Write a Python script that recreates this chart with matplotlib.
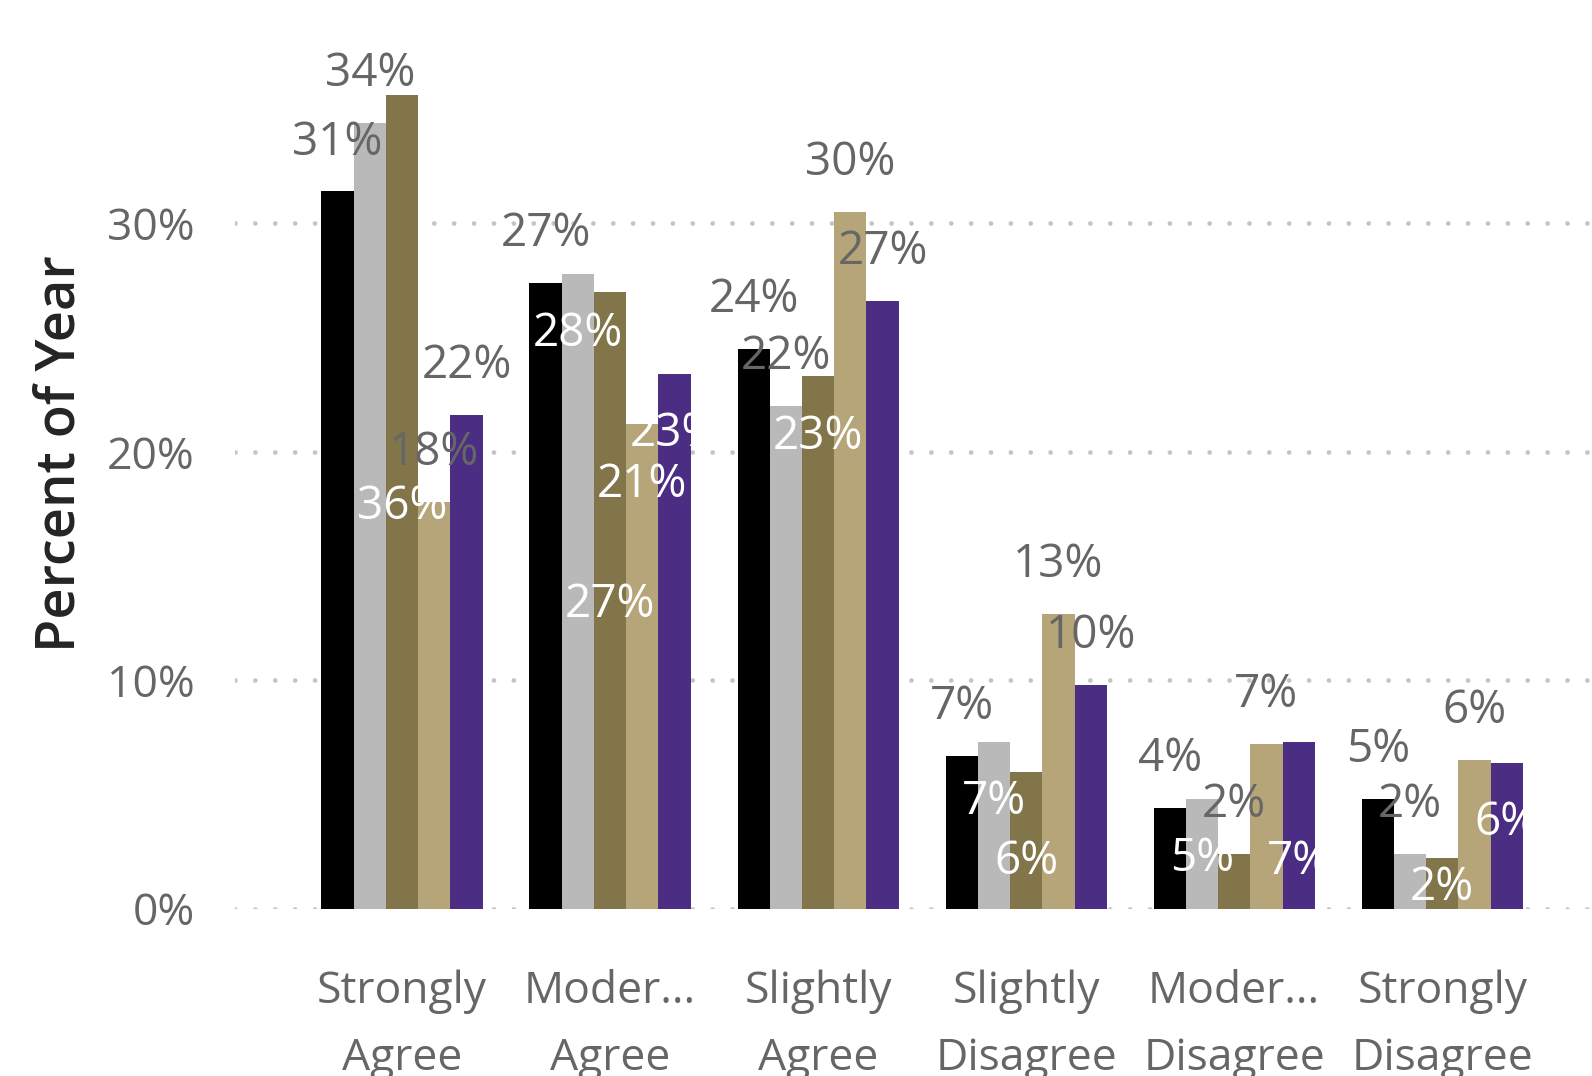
import matplotlib.pyplot as plt
import numpy as np

plt.rcParams['font.family'] = ['Open Sans', 'DejaVu Sans']

categories = ["Strongly\nAgree", "Moder...\nAgree", "Slightly\nAgree",
              "Slightly\nDisagree", "Moder...\nDisagree", "Strongly\nDisagree"]

black_vals = [31.4, 27.4, 24.5, 6.7, 4.4, 4.8]
gray_vals = [34.4, 27.8, 22.0, 7.3, 4.8, 2.4]
olive_vals = [35.6, 27.0, 23.3, 6.0, 2.4, 2.2]
tan_vals = [17.8, 21.2, 30.5, 12.9, 7.2, 6.5]
purple_vals = [21.6, 23.4, 26.6, 9.8, 7.3, 6.4]

# where the data label sits: out = above bar, end = inside top, center, base = inside bottom
black_pos = ["out", "out", "out", "out", "out", "out"]
gray_pos = ["out", "end", "out", "end", "end", "out"]
olive_pos = ["center", "center", "end", "base", "out", "center"]
tan_pos = ["out", "end", "out", "out", "out", "out"]
purple_pos = ["out", "end", "out", "out", "base", "end"]

series = [
    (black_vals, black_pos, "#000000"),
    (gray_vals, gray_pos, "#B9B9B9"),
    (olive_vals, olive_pos, "#82754A"),
    (tan_vals, tan_pos, "#B7A57A"),
    (purple_vals, purple_pos, "#4B2E83"),
]

fig = plt.figure(figsize=(15.92, 10.76), dpi=100)
ax = fig.add_axes([235 / 1592, 1 - 908.7 / 1076, 1 - 235 / 1592, 908.7 / 1076])

x = np.arange(len(categories))
w = 0.155
label_color = "#666666"

for i, (vals, pos, col) in enumerate(series):
    xs = x + (i - 2) * w
    ax.bar(xs, vals, width=w, color=col, linewidth=0, zorder=2)
    for xi, v, p in zip(xs, vals, pos):
        txt = f"{round(v):.0f}%"
        if p == "out":
            ax.annotate(txt, (xi, v), xytext=(0, 26.5), textcoords="offset points",
                        ha="center", va="baseline", fontsize=33, color=label_color, zorder=5)
        elif p == "end":
            ax.annotate(txt, (xi, v), xytext=(0, -52), textcoords="offset points",
                        ha="center", va="baseline", fontsize=33, color="white", zorder=5)
        elif p == "base":
            ax.annotate(txt, (xi, 0), xytext=(0, 25), textcoords="offset points",
                        ha="center", va="baseline", fontsize=33, color="white", zorder=5)
        else:
            ax.annotate(txt, (xi, v / 2), xytext=(0, -12), textcoords="offset points",
                        ha="center", va="baseline", fontsize=33, color="white", zorder=5)

ax.set_xlim(-0.803, 5.72)
ax.set_ylim(0, 39.78)
ax.set_yticks([0, 10, 20, 30])
ax.set_yticklabels(["0%", "10%", "20%", "30%"])
ax.set_xticks(x)
ax.set_xticklabels(categories, linespacing=1.65)
ax.tick_params(axis="y", length=0, pad=29, labelsize=32, labelcolor=label_color)
ax.tick_params(axis="x", length=0, pad=44, labelsize=32, labelcolor=label_color)
for s in ax.spines.values():
    s.set_visible(False)
ax.yaxis.grid(True, color="#C4C4C4", linewidth=3.4, linestyle=(0, (0.01, 4.2)),
              dash_capstyle="round", zorder=0)
ax.set_axisbelow(True)

fig.text(61 / 1592, 0.578, "Percent of Year", rotation=90, ha="center", va="center",
         fontsize=39, fontweight="semibold", color="#252423")

fig.savefig("out.png", dpi=100)
